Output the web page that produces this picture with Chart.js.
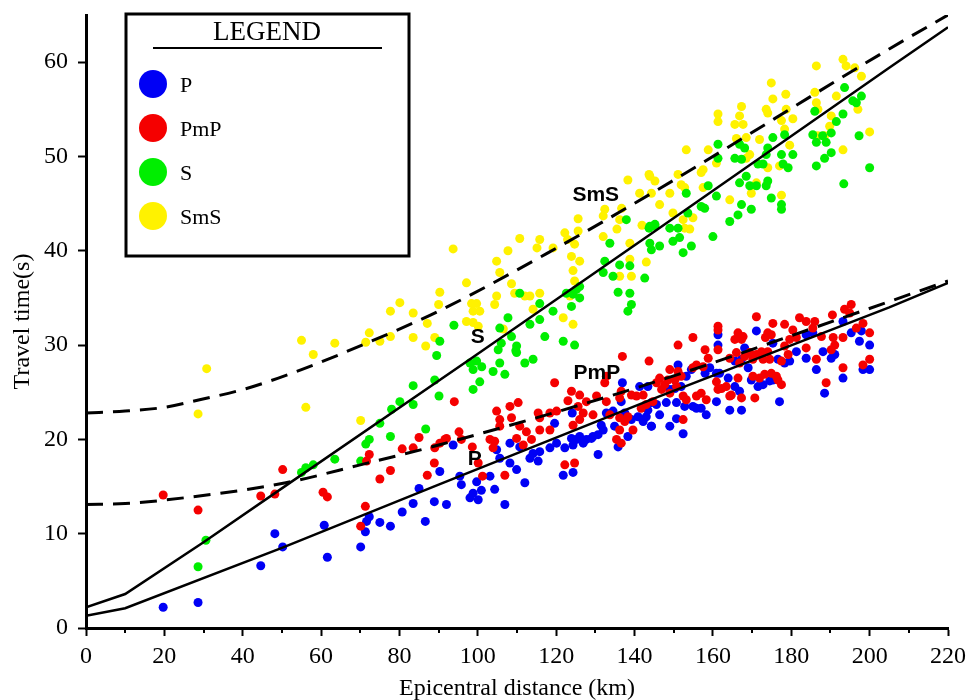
<!DOCTYPE html>
<html>
<head>
<meta charset="utf-8">
<script src="https://cdn.jsdelivr.net/npm/chart.js@4.4.1/dist/chart.umd.min.js"></script>
<style>
    body { margin: 0; background: #fff; }
</style>
</head>
<body>
<canvas id="travel-chart" width="970" height="700"></canvas>
<script>
// observed arrivals, [epicentral distance (km), travel time (s)]
const pPicks = [
    [19.7, 2.2], [28.6, 2.7], [44.6, 6.6], [48.2, 10.0], [50.2, 8.6], [60.8, 10.9], [61.6, 7.5], [70.1, 8.6],
    [71.3, 10.2], [71.6, 11.3], [72.3, 11.8], [75, 11.2], [77.7, 10.8], [80.7, 12.3], [83.5, 13.2], [85, 14.8],
    [86.6, 11.3], [88.9, 13.4], [93.7, 19.4],
    [136.9, 26.0], [141.3, 25.6], [143.4, 25.6], [132.8, 22.8], [134.5, 23.0], [136.6, 24.0], [137.5, 22.8],
    [139.2, 22.1], [140.9, 22.4], [143, 22.4], [144.3, 21.4], [142.2, 21.9], [134.9, 21.4], [138.3, 20.3],
    [135.8, 19.2], [119.6, 21.7], [124.1, 22.8], [123.9, 20.1], [125.2, 20.0], [126, 20.3], [124.3, 19.4],
    [126.9, 19.6], [127.7, 20.0], [129, 20.1], [130.7, 20.5], [132, 21.0], [131.5, 21.5], [129.4, 20.3],
    [122.2, 19.1], [120.1, 19.6], [118.4, 19.1], [115.8, 18.7], [115.4, 17.7], [113.3, 18.0], [114.1, 18.5],
    [130.7, 18.4], [121.8, 16.2], [124.3, 16.5], [112, 15.4], [109.9, 16.8], [108.2, 17.5], [108.2, 19.6],
    [110.7, 19.2], [105.6, 18.0], [104.8, 18.9], [103.1, 16.1], [104.3, 14.7], [100.9, 14.6], [98.8, 14.3],
    [98, 13.8], [100.1, 13.6], [106.9, 13.1], [95.4, 16.1], [95.8, 15.2], [99.7, 15.5], [92, 13.1], [90.3, 16.6],
    [144.3, 23.9], [143.4, 23.1],
    [193.2, 32.5], [185.5, 31.3], [183.8, 31.1], [195.3, 31.3], [197.4, 30.4], [200, 30.0], [197.9, 31.5],
    [171.1, 31.5], [161.3, 31.1], [161.3, 30.0], [168.1, 29.7], [175.3, 30.2], [181.3, 29.3], [183.8, 28.6],
    [188.1, 29.3], [190.2, 28.6], [191.1, 29.0], [198.3, 27.4], [200, 27.4], [193.2, 26.5], [188.5, 24.9],
    [186.4, 27.4], [176.6, 28.5], [178.3, 28.1], [179.6, 28.3], [165.6, 28.3], [167.3, 28.5], [169, 27.6],
    [169.8, 26.3], [171.5, 25.6], [172.8, 25.8], [174.5, 26.2], [175.3, 26.3], [177, 24.0], [159.2, 27.6],
    [158, 27.0], [160.9, 27.0], [161.7, 27.0], [163.9, 26.5], [165.6, 25.6], [166.8, 25.1], [164.3, 23.1],
    [167.3, 23.1], [160.9, 24.0], [155.8, 23.3], [157, 23.3], [158.3, 22.6], [151.1, 27.9], [153.2, 26.7],
    [154.5, 27.4], [150.3, 25.4], [149, 25.3], [151.9, 25.6], [148.1, 23.9], [150.7, 23.9], [152.8, 23.5],
    [154.9, 23.5], [146.4, 22.6], [150.7, 22.2], [144.3, 21.4], [152.4, 20.6], [149, 21.4], [145.6, 23.7]
];

const pmpPicks = [
    [19.7, 14.1], [28.6, 12.5], [44.6, 14.0], [48.2, 14.2], [50.2, 16.8], [60.5, 14.4], [61.6, 13.9],
    [70.1, 10.8], [71.3, 12.9], [71.6, 17.7], [72.3, 18.4], [75, 15.8], [77.7, 16.7], [80.7, 19.0],
    [83.5, 19.1], [85, 20.2], [87.1, 16.2], [88.9, 17.5], [94, 24.0], [90.3, 19.6], [91.6, 20.0],
    [95.2, 20.8], [89, 19.1], [98.6, 19.2],
    [136.9, 28.8], [143.7, 28.3], [132.8, 26.7], [132.4, 26.0], [119.6, 26.0], [123.9, 25.1], [126, 24.7],
    [127.7, 24.0], [123, 24.1], [125.6, 23.5], [136.6, 25.1], [136.2, 24.4], [139.2, 24.7], [140.5, 24.6],
    [142.2, 24.7], [130.3, 24.6], [132.8, 24.0], [143, 23.7], [144.7, 24.0], [141.7, 23.3], [129.4, 22.6],
    [126.9, 22.8], [126, 22.1], [124.3, 21.5], [120.1, 23.0], [118.4, 22.8], [115.8, 22.3], [108.2, 23.5],
    [110.3, 23.9], [104.8, 23.0], [105.6, 22.1], [108.6, 22.3], [105.6, 21.4], [110.7, 21.4], [112.4, 20.8],
    [115.8, 21.0], [118.4, 21.0], [109.9, 20.1], [113.7, 20.0], [111.6, 19.4], [103.1, 20.0], [104.3, 19.8],
    [103.9, 19.1], [95.8, 20.0], [92, 20.1], [100.1, 17.5], [101.2, 16.1], [106.9, 16.2], [122.2, 17.3],
    [124.7, 17.5], [133.7, 22.6], [136.2, 22.3], [137.5, 21.9], [136.2, 21.0], [135.4, 20.0], [136.6, 19.6],
    [138.3, 22.4], [139.6, 21.0], [115.4, 22.8],
    [195.3, 34.3], [193.6, 33.8], [194.9, 33.4], [190.5, 33.2], [171.1, 33.0], [182.1, 32.9], [183.8, 32.5],
    [186, 32.5], [161.3, 32.0], [161.3, 31.6], [175.3, 32.3], [178.3, 32.2], [198.3, 32.3], [196.6, 31.8],
    [200, 31.3], [166.4, 31.3], [167.7, 30.9], [167.3, 30.6], [165.6, 30.6], [174, 31.3], [174.9, 31.1],
    [173.4, 30.8], [180.4, 31.6], [181.3, 30.8], [179.6, 30.6], [185.5, 31.8], [187.7, 30.9], [190.7, 30.8],
    [193.2, 30.8], [191.1, 30.0], [190.2, 29.5], [154.9, 30.8], [151.1, 30.0], [161.3, 29.5], [158, 29.5],
    [169.4, 29.2], [171.1, 29.0], [172.4, 29.3], [174, 29.3], [174.5, 28.5], [172.8, 28.5], [170.2, 28.5],
    [168.1, 28.8], [178.3, 29.9], [179.2, 29.0], [177.5, 28.3], [183.8, 29.7], [186.4, 28.5], [166, 29.2],
    [164.3, 28.6], [158.8, 28.6], [157.5, 27.7], [154.9, 27.6], [155.8, 27.9], [149, 27.4], [151.1, 27.2],
    [148.5, 26.3], [150.3, 26.3], [151.9, 26.7], [146.4, 26.5], [145.6, 26.0], [147.7, 25.8], [146.9, 25.3],
    [149, 24.9], [150.7, 25.6], [160.9, 26.1], [162.2, 25.4], [163.4, 25.6], [164.7, 24.7], [161.3, 25.3],
    [170.2, 26.7], [171.9, 26.5], [173.2, 26.9], [174.9, 27.0], [176.2, 26.7], [176.6, 26.3], [177.5, 25.8],
    [166.4, 26.5], [166.8, 28.1], [157, 24.9], [158.3, 24.2], [155.8, 24.6], [152.4, 24.6], [153.2, 24.2],
    [164.3, 24.6], [167.3, 24.4], [170.7, 24.4], [152.4, 22.1], [193.2, 27.6], [188.9, 26.0], [198.3, 27.9],
    [200, 28.5]
];

const sPicks = [
    [30.6, 9.3], [28.6, 6.5], [55, 16.5], [56.1, 17.0], [58, 17.3], [63.5, 17.9], [70.1, 17.7], [71.4, 19.5],
    [72.3, 20.0], [75, 21.7], [77.7, 20.3], [78, 23.2], [80.1, 24.0], [83.5, 25.7], [83.5, 23.7],
    [93.9, 32.1], [90.3, 30.4], [89.5, 28.9], [89, 26.3], [90.1, 24.6], [86.7, 21.1],
    [137.9, 43.3], [143.7, 42.4], [145.2, 42.6], [144.3, 40.1], [133.7, 40.8], [132.4, 38.9], [136.2, 38.5],
    [138.8, 38.4], [132, 37.7], [134.5, 37.3], [142.6, 37.1], [135.8, 35.6], [138.8, 35.5], [139.2, 34.3],
    [138.3, 33.6], [125.2, 35.9], [126, 36.2], [124.3, 35.4], [122.6, 35.5], [126, 35.0], [123.9, 34.1],
    [119.2, 33.6], [115.8, 34.4], [115.8, 32.7], [107.7, 32.9], [110.7, 35.5], [113.3, 32.2], [117.1, 30.9],
    [121.8, 30.4], [124.7, 30.0], [109.7, 29.4], [105.6, 31.8], [105.2, 29.5],
    [109.9, 29.9], [109.9, 29.2], [114.1, 28.5], [112, 28.1], [106, 30.2], [108.6, 30.9], [105.6, 28.1],
    [98, 28.1], [99.7, 28.3], [101, 27.7], [98.8, 27.4], [103.9, 27.2], [106.9, 26.9], [100.5, 26.1], [98.8, 25.3],
    [193.6, 57.3], [195.7, 55.9], [196.6, 55.7], [197.9, 56.4], [186, 54.8], [193.2, 54.5], [191.5, 53.7],
    [190.2, 52.5], [188, 52.2], [185.5, 52.3], [186.4, 51.5], [188.9, 51.5], [197.3, 52.2], [190.2, 50.4],
    [188.5, 49.8], [186.4, 49.0], [200, 48.8], [193.4, 47.1], [175.3, 52.0], [178.3, 52.3], [177.5, 50.2],
    [180.4, 50.2], [177.9, 49.2], [179.2, 48.8], [174, 50.9], [173.6, 50.2], [172.8, 49.2], [171.5, 49.2],
    [166.8, 51.3], [168.1, 50.9], [165.6, 49.8], [167.3, 49.7], [161.3, 51.3], [161.3, 49.8], [168.5, 47.9],
    [169.4, 46.9], [171.1, 46.9], [166.8, 47.2], [174, 47.4], [173.6, 46.9], [160.9, 45.8], [158.8, 46.9],
    [177.5, 44.9], [177.5, 44.4], [174.9, 45.6], [169.8, 44.4], [167.3, 44.9], [166.4, 43.8], [164.3, 43.1],
    [157, 44.7], [157.9, 44.5], [153.2, 46.1], [153.6, 44.0], [149, 42.4], [151.1, 42.4], [151.5, 41.4],
    [149.8, 41.0], [143.9, 42.6], [145.2, 42.8], [143.9, 40.8], [146.4, 40.5], [154.5, 40.5], [152.4, 39.8],
    [160, 41.5]
];

const smsPicks = [
    [30.8, 27.5], [28.6, 22.7], [55, 30.5], [58, 29.0], [56.1, 23.4], [63.5, 30.2], [70.1, 22.0], [71.4, 30.3],
    [72.3, 31.3], [75, 30.4], [77.7, 33.6], [77.7, 30.9], [80.1, 34.5], [83.5, 33.4], [83.5, 30.8],
    [93.7, 40.2], [90.3, 35.6], [90, 34.3], [87.1, 32.3], [89, 30.8], [86.7, 29.9],
    [143.7, 48.1], [138.3, 47.5], [145.2, 47.4], [141.3, 46.1], [144.3, 46.1], [132.4, 44.4], [132, 43.7],
    [136.7, 44.5], [136.2, 43.3], [125.6, 43.4], [141.9, 42.7], [125.6, 42.1], [135.5, 42.3], [132, 41.5],
    [122.2, 41.9], [122.9, 41.2], [124.7, 40.7], [138.8, 40.8], [110.7, 41.3], [115.8, 41.2], [115.1, 40.3],
    [119.2, 40.3], [107.7, 40.0], [104.8, 38.9], [105.6, 37.7], [123.9, 39.4], [126, 38.9], [124.3, 37.9],
    [143, 38.8], [138.8, 39.1], [136.2, 37.3], [139.2, 37.3], [97.1, 36.6], [108.6, 36.5], [109.4, 35.5],
    [112, 35.2], [113.3, 35.2], [115.8, 35.5], [104.8, 35.2], [104.3, 34.3], [98.4, 34.4], [99.7, 34.4],
    [98.8, 33.6], [100.5, 33.6], [97.1, 32.5], [98.8, 32.4], [100.1, 32.0], [106.5, 31.7], [121.8, 32.9],
    [124.3, 32.2], [123.5, 35.2], [124.7, 36.8], [114.1, 33.8],
    [193.2, 60.3], [194, 59.6], [186.4, 59.6], [196.2, 59.4], [197.9, 58.5], [174.9, 57.8], [178.6, 56.6],
    [175.3, 56.1], [186, 56.8], [191.5, 56.4], [167.3, 55.3], [161.3, 54.5], [161.3, 53.7], [173.6, 55.0],
    [174, 54.6], [178.7, 55.0], [186.4, 55.7], [186.8, 55.0], [166.8, 54.3], [165.6, 53.4], [167.7, 53.4],
    [177.5, 53.8], [180.4, 54.0], [190.2, 54.3], [178.3, 52.9], [189.8, 53.2], [200, 52.6], [171.9, 51.8],
    [168.5, 52.0], [166, 51.9], [186.8, 52.2], [188.5, 52.2], [179.6, 51.2], [193.2, 50.7], [197, 55.0],
    [169.4, 50.2], [168.5, 49.8], [158.8, 50.7], [153.2, 50.7], [160.9, 49.3], [157.5, 48.6], [157, 48.3],
    [151.1, 48.1], [151.9, 47.0], [152.8, 46.7], [143.9, 47.9], [146.4, 44.9], [157.5, 46.7], [174, 48.8],
    [177, 49.0], [169.8, 46.1], [171.1, 47.2], [164.3, 45.4], [177.5, 45.9], [149, 46.1], [149.8, 44.0],
    [152.4, 43.3], [154.9, 43.5], [152.8, 42.4], [154.1, 42.3]
];

// theoretical travel-time curves
const pCurve = [[0, 1.3], [10, 2.1], [50, 8.5], [90, 15.2], [146, 24.5], [205, 34.0], [220, 36.6]];
const sCurve = [[0, 2.2], [10, 3.6], [30, 9.1], [51, 15.1], [98, 28.5], [146, 42.3], [205, 59.4], [220, 63.7]];
const pmpCurve = [[0, 13.1], [10, 13.2], [25, 13.8], [51, 15.4], [70, 17.3], [90, 19.4], [143, 25.8], [198, 33.6], [220, 36.8]];
const smsCurve = [[0, 22.8], [10, 23.0], [20, 23.4], [29, 24.2], [41, 25.4], [55, 27.4], [71.6, 30.2], [90, 33.6], [118, 39.8], [146, 46.5], [205, 61.4], [220, 65.0]];

const phaseNames = ['P', 'PmP', 'S', 'SmS'];
const phaseColors = ['#0000f5', '#f50000', '#00ee00', '#fff200'];
// where each curve is labelled, [km, s]
const curveLabelAt = [[99.2, 17.9], [130.4, 27.0], [100, 30.8], [130.1, 45.9]];

const serif = '"Liberation Serif", "Times New Roman", serif';

const toXY = arr => arr.map(d => ({ x: d[0], y: d[1] }));

function picks(idx, data, order) {
    return {
        label: phaseNames[idx],
        data: toXY(data),
        showLine: false,
        pointRadius: 4.5,
        pointBorderWidth: 0,
        pointBackgroundColor: phaseColors[idx],
        order: order,
    };
}

function curve(data, dashed, smooth) {
    return {
        data: toXY(data),
        showLine: true,
        pointRadius: 0,
        borderColor: '#000',
        borderWidth: dashed ? 3 : 2.5,
        borderDash: dashed ? [17, 10] : [],
        cubicInterpolationMode: smooth ? 'monotone' : 'default',
        tension: 0,
        order: 0,
    };
}

// minor ticks, the boxed legend and the phase names on the curves
const extras = {
    id: 'extras',
    afterDraw(chart) {
        const ctx = chart.ctx;
        const xs = chart.scales.x;
        const ys = chart.scales.y;
        const area = chart.chartArea;

        ctx.save();
        ctx.strokeStyle = '#000';
        ctx.lineWidth = 2;
        for (let v = 10; v < 220; v += 20) {
            const px = Math.round(xs.getPixelForValue(v));
            ctx.beginPath();
            ctx.moveTo(px, area.bottom);
            ctx.lineTo(px, area.bottom + 5);
            ctx.stroke();
        }

        // legend box
        ctx.lineWidth = 3;
        ctx.strokeRect(126, 14, 283, 242);
        ctx.fillStyle = '#000';
        ctx.font = '27px ' + serif;
        ctx.textAlign = 'center';
        ctx.textBaseline = 'alphabetic';
        ctx.fillText('LEGEND', 267, 40);
        ctx.lineWidth = 2;
        ctx.beginPath();
        ctx.moveTo(153, 48);
        ctx.lineTo(382, 48);
        ctx.stroke();

        ctx.font = '22px ' + serif;
        ctx.textAlign = 'left';
        phaseNames.forEach((name, i) => {
            const cy = 84 + i * 44;
            ctx.fillStyle = phaseColors[i];
            ctx.beginPath();
            ctx.arc(153, cy, 14, 0, Math.PI * 2);
            ctx.fill();
            ctx.fillStyle = '#000';
            ctx.fillText(name, 180, cy + 8);
        });

        ctx.font = 'bold 21px "Liberation Sans", Arial, sans-serif';
        ctx.textAlign = 'center';
        ctx.textBaseline = 'middle';
        phaseNames.forEach((name, i) => {
            const at = curveLabelAt[i];
            ctx.fillText(name, xs.getPixelForValue(at[0]), ys.getPixelForValue(at[1]));
        });
        ctx.restore();
    }
};

window.onload = () => {
    const ctx = document.getElementById('travel-chart').getContext('2d');
    new Chart(ctx, {
        type: 'scatter',
        data: {
            datasets: [
                curve(pCurve, false, false),
                curve(sCurve, false, false),
                curve(pmpCurve, true, true),
                curve(smsCurve, true, true),
                picks(0, pPicks, 2),
                picks(1, pmpPicks, 1),
                picks(2, sPicks, 3),
                picks(3, smsPicks, 4),
            ],
        },
        options: {
            responsive: false,
            animation: false,
            devicePixelRatio: 1,
            layout: { padding: { top: 15, right: 22, left: 0, bottom: 0 } },
            plugins: {
                legend: { display: false },
                tooltip: { enabled: false },
            },
            scales: {
                x: {
                    type: 'linear',
                    min: 0,
                    max: 220,
                    ticks: {
                        stepSize: 20,
                        includeBounds: false,
                        color: '#000',
                        padding: 6,
                        maxRotation: 0,
                        font: { family: serif, size: 24 },
                    },
                    grid: { drawOnChartArea: false, drawTicks: true, tickLength: 8, tickWidth: 2, tickColor: '#000' },
                    border: { display: true, color: '#000', width: 3 },
                    title: {
                        display: true,
                        text: 'Epicentral distance (km)',
                        color: '#000',
                        padding: { top: 0, bottom: 0 },
                        font: { family: serif, size: 24, lineHeight: 0.9 },
                    },
                    afterFit: scale => {
                        scale.height = 72;
                        scale.paddingLeft = 0;
                        scale.paddingRight = 0;
                    },
                },
                y: {
                    type: 'linear',
                    min: 0,
                    max: 65,
                    ticks: {
                        stepSize: 10,
                        includeBounds: false,
                        color: '#000',
                        padding: 10,
                        font: { family: serif, size: 24 },
                    },
                    grid: { drawOnChartArea: false, drawTicks: true, tickLength: 8, tickWidth: 2, tickColor: '#000' },
                    border: { display: true, color: '#000', width: 3 },
                    title: {
                        display: true,
                        text: 'Travel time(s)',
                        color: '#000',
                        padding: { top: 12, bottom: 0 },
                        font: { family: serif, size: 24, lineHeight: 0.9 },
                    },
                    afterFit: scale => {
                        scale.width = 86;
                        scale.paddingTop = 0;
                        scale.paddingBottom = 0;
                    },
                },
            },
        },
        plugins: [extras],
    });
};
</script>
</body>
</html>
